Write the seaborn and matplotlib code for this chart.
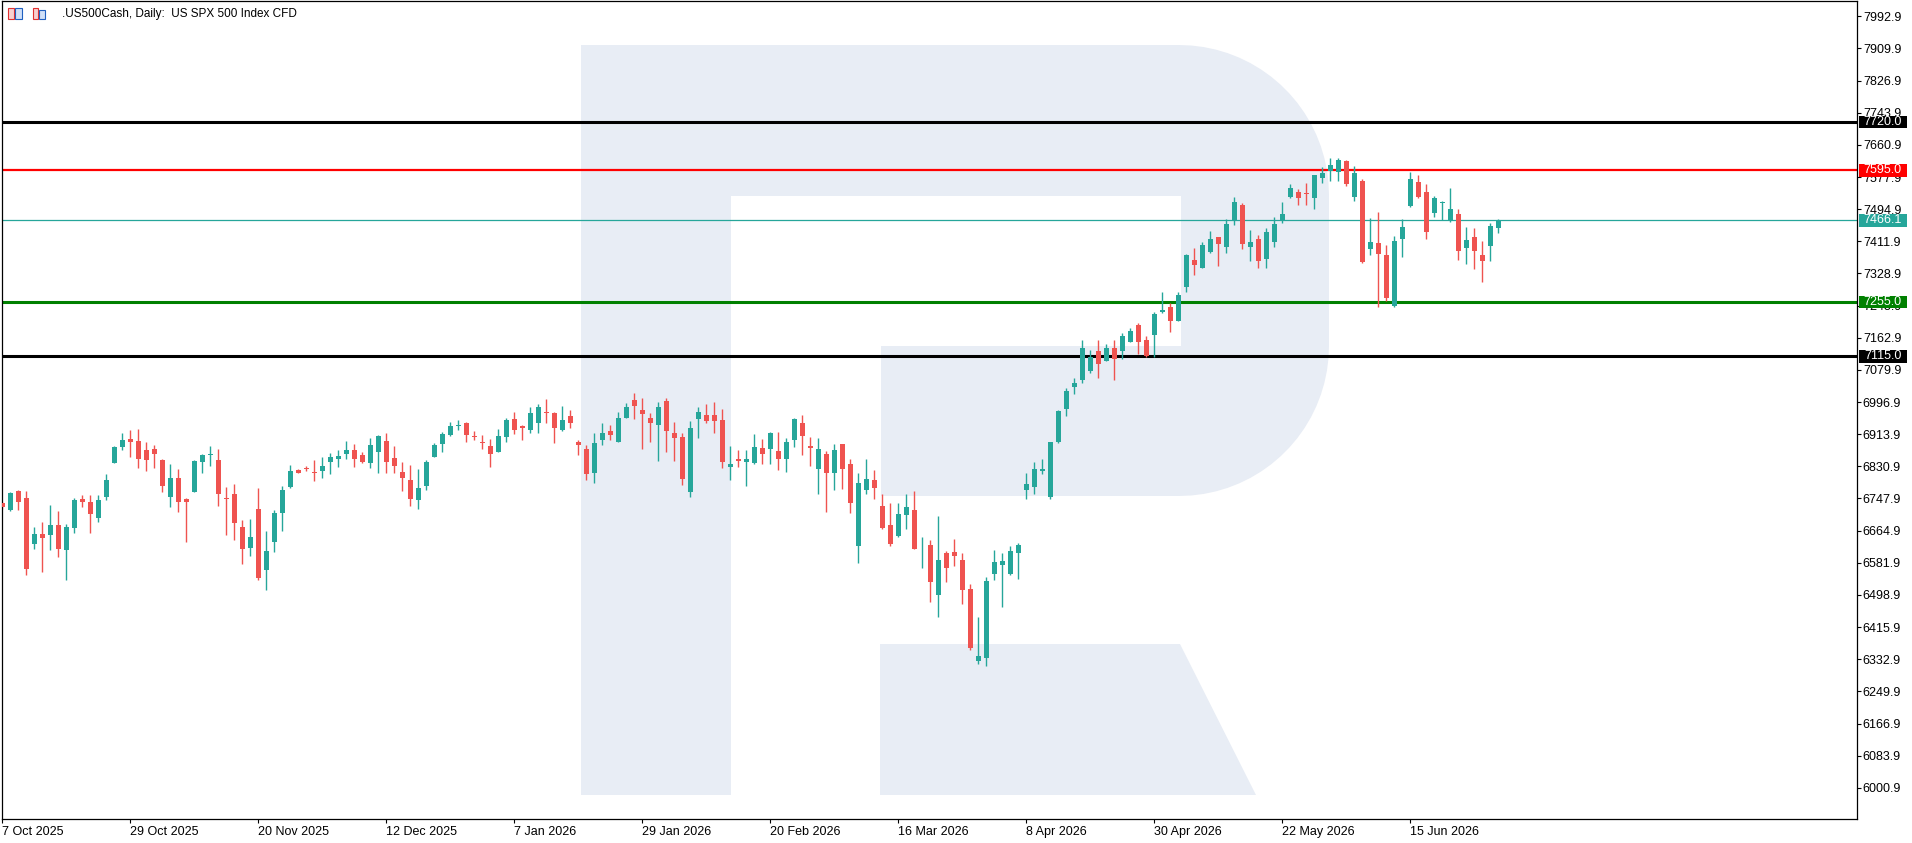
import numpy as np
import pandas as pd
import seaborn as sns
import matplotlib
matplotlib.use("Agg")
import matplotlib.pyplot as plt
from matplotlib.patches import Polygon, Rectangle

# daily candles (open, high, low, close)
opens = [6736, 6717, 6768, 6750, 6630, 6657, 6653, 6680, 6614, 6671, 6747, 6740, 6697, 6751, 6840, 6882,
         6902, 6897, 6874, 6876, 6848, 6751, 6802, 6747, 6764, 6841, 6859, 6848, 6750, 6760, 6675, 6619,
         6722, 6562, 6635, 6710, 6777, 6822, 6827, 6817, 6818, 6841, 6851, 6862, 6874, 6861, 6839, 6869,
         6897, 6853, 6817, 6796, 6743, 6779, 6854, 6888, 6913, 6935, 6943, 6910, 6894, 6884, 6869, 6906,
         6954, 6936, 6926, 6944, 6972, 6969, 6926, 6962, 6894, 6876, 6815, 6900, 6923, 6893, 6957, 7003,
         6977, 6956, 6937, 7000, 6918, 6907, 6764, 6952, 6964, 6964, 6951, 6828, 6851, 6842, 6839, 6879,
         6875, 6871, 6851, 6898, 6943, 6884, 6823, 6863, 6815, 6889, 6838, 6624, 6769, 6796, 6729, 6680,
         6650, 6704, 6719, 6624, 6629, 6498, 6606, 6611, 6590, 6513, 6328, 6335, 6552, 6575, 6552, 6606,
         6769, 6777, 6820, 6753, 6895, 6978, 7037, 7053, 7078, 7129, 7104, 7137, 7128, 7153, 7196, 7158,
         7171, 7230, 7243, 7207, 7295, 7364, 7344, 7385, 7423, 7396, 7467, 7506, 7396, 7418, 7367, 7409,
         7465, 7527, 7539, 7537, 7524, 7576, 7594, 7591, 7619, 7527, 7568, 7392, 7408, 7377, 7245, 7418,
         7503, 7565, 7539, 7485, 7512, 7467, 7483, 7395, 7423, 7377, 7400, 7447]
highs = [6740, 6765, 6771, 6768, 6675, 6688, 6732, 6716, 6683, 6750, 6758, 6758, 6758, 6812, 6884, 6918,
         6925, 6928, 6894, 6887, 6851, 6838, 6825, 6750, 6848, 6864, 6884, 6876, 6778, 6786, 6693, 6696,
         6776, 6665, 6719, 6781, 6835, 6825, 6833, 6848, 6856, 6866, 6874, 6897, 6889, 6869, 6905, 6912,
         6918, 6884, 6843, 6835, 6825, 6848, 6892, 6920, 6946, 6951, 6946, 6923, 6913, 6902, 6928, 6956,
         6972, 6938, 6985, 6992, 7005, 6972, 6987, 6977, 6900, 6887, 6918, 6943, 6938, 6972, 6995, 7021,
         7008, 6969, 6998, 7008, 6946, 6918, 6949, 6985, 6993, 6998, 6980, 6884, 6874, 6874, 6915, 6902,
         6920, 6920, 6905, 6956, 6964, 6907, 6905, 6871, 6889, 6889, 6851, 6814, 6851, 6822, 6760, 6737,
         6737, 6760, 6768, 6649, 6642, 6703, 6613, 6644, 6608, 6528, 6443, 6546, 6616, 6608, 6626, 6634,
         6814, 6843, 6851, 6894, 6977, 7034, 7060, 7158, 7132, 7158, 7147, 7158, 7176, 7189, 7201, 7168,
         7230, 7281, 7253, 7281, 7380, 7395, 7410, 7439, 7423, 7470, 7527, 7511, 7441, 7428, 7447, 7475,
         7514, 7560, 7547, 7563, 7583, 7604, 7627, 7627, 7622, 7607, 7573, 7472, 7488, 7403, 7426, 7470,
         7591, 7583, 7560, 7529, 7516, 7550, 7496, 7449, 7447, 7413, 7459, 7470]
lows = [6720, 6715, 6719, 6550, 6617, 6557, 6614, 6596, 6537, 6660, 6725, 6660, 6686, 6745, 6839, 6872,
        6854, 6826, 6818, 6826, 6764, 6725, 6712, 6635, 6764, 6813, 6833, 6728, 6653, 6642, 6578, 6599,
        6537, 6511, 6611, 6663, 6774, 6813, 6820, 6792, 6802, 6810, 6828, 6849, 6828, 6839, 6826, 6813,
        6813, 6813, 6766, 6728, 6722, 6771, 6854, 6867, 6908, 6926, 6895, 6900, 6875, 6828, 6867, 6895,
        6915, 6900, 6918, 6916, 6944, 6890, 6921, 6929, 6859, 6795, 6787, 6885, 6898, 6893, 6957, 6952,
        6875, 6895, 6844, 6867, 6844, 6782, 6751, 6903, 6942, 6916, 6826, 6795, 6828, 6779, 6836, 6836,
        6836, 6822, 6817, 6882, 6861, 6832, 6760, 6712, 6769, 6772, 6710, 6581, 6759, 6746, 6668, 6624,
        6648, 6668, 6617, 6568, 6480, 6441, 6532, 6573, 6475, 6356, 6320, 6315, 6537, 6467, 6550, 6539,
        6746, 6759, 6810, 6746, 6890, 6962, 7017, 7045, 7073, 7058, 7102, 7053, 7109, 7153, 7122, 7112,
        7112, 7226, 7179, 7205, 7280, 7326, 7344, 7383, 7347, 7383, 7455, 7393, 7360, 7342, 7344, 7396,
        7458, 7524, 7506, 7506, 7496, 7563, 7568, 7568, 7555, 7516, 7356, 7377, 7243, 7258, 7243, 7372,
        7501, 7524, 7418, 7475, 7467, 7462, 7364, 7354, 7341, 7307, 7361, 7434]
closes = [6725, 6763, 6738, 6565, 6657, 6645, 6680, 6617, 6675, 6745, 6738, 6707, 6745, 6796, 6882, 6900,
          6895, 6849, 6846, 6862, 6779, 6802, 6738, 6740, 6845, 6861, 6863, 6759, 6746, 6684, 6617, 6649,
          6542, 6613, 6711, 6771, 6820, 6815, 6823, 6815, 6833, 6856, 6858, 6874, 6849, 6841, 6887, 6910,
          6841, 6831, 6802, 6746, 6776, 6843, 6887, 6915, 6936, 6936, 6913, 6906, 6890, 6864, 6910, 6951,
          6924, 6929, 6969, 6985, 6968, 6931, 6951, 6944, 6885, 6810, 6892, 6918, 6911, 6956, 6985, 6986,
          6965, 6942, 6985, 6921, 6903, 6797, 6931, 6972, 6949, 6947, 6841, 6838, 6844, 6851, 6882, 6864,
          6918, 6849, 6894, 6954, 6908, 6877, 6876, 6815, 6874, 6823, 6735, 6789, 6799, 6774, 6673, 6630,
          6709, 6727, 6617, 6626, 6532, 6590, 6568, 6599, 6511, 6361, 6341, 6536, 6585, 6587, 6613, 6629,
          6786, 6825, 6825, 6894, 6974, 7026, 7047, 7137, 7114, 7096, 7137, 7107, 7168, 7181, 7151, 7117,
          7225, 7235, 7205, 7274, 7377, 7352, 7403, 7418, 7404, 7457, 7514, 7404, 7410, 7362, 7436, 7457,
          7483, 7550, 7524, 7535, 7583, 7588, 7609, 7622, 7560, 7588, 7359, 7410, 7379, 7266, 7413, 7449,
          7573, 7527, 7436, 7524, 7514, 7496, 7387, 7415, 7387, 7361, 7452, 7467]

date_ticks = [0, 16, 32, 48, 64, 80, 96, 112, 128, 144, 160, 176]
date_labels = ["7 Oct 2025", "29 Oct 2025", "20 Nov 2025", "12 Dec 2025", "7 Jan 2026", "29 Jan 2026",
               "20 Feb 2026", "16 Mar 2026", "8 Apr 2026", "30 Apr 2026", "22 May 2026", "15 Jun 2026"]
price_ticks = [6000.9, 6083.9, 6166.9, 6249.9, 6332.9, 6415.9, 6498.9, 6581.9, 6664.9, 6747.9, 6830.9,
               6913.9, 6996.9, 7079.9, 7162.9, 7245.9, 7328.9, 7411.9, 7494.9, 7577.9, 7660.9, 7743.9,
               7826.9, 7909.9, 7992.9]
level_values = [7720.0, 7595.0, 7466.1, 7255.0, 7115.0]
level_colors = ["#000000", "#ff0000", "#26a69a", "#008000", "#000000"]
level_widths = [2.2, 1.6, 0.9, 2.2, 2.2]

UP = "#26a69a"
DOWN = "#ef5350"
W, H = 1912, 843

df = pd.DataFrame({"open": opens, "high": highs, "low": lows, "close": closes})
df["bar"] = np.arange(len(df))
df["up"] = df["close"] >= df["open"]

sns.set_theme(style="white")
plt.rcParams["font.family"] = ["Liberation Sans", "DejaVu Sans"]

fig = plt.figure(figsize=(W / 100, H / 100), dpi=100)
ax = fig.add_axes([2.3 / W, 1 - 819.3 / H, 1855 / W, 818.3 / H])
ax.set_facecolor("white")


def px(x, y):
    return (x / W, 1 - y / H)


# watermark "R"
def arc(cx, cy, r, a0, a1):
    t = np.radians(np.linspace(a0, a1, 20))
    return [(cx + r * np.cos(t_), cy - r * np.sin(t_)) for t_ in t]


r = 150
outline = [(581, 45), (1179, 45)] + arc(1179, 195, r, 90, 0) + arc(1179, 346, r, 0, -90) + \
          [(881, 496), (881, 346), (1181, 346), (1181, 196), (731, 196), (731, 795), (581, 795)]
leg = [(880, 644), (1180, 644), (1256, 795), (880, 795)]
for shape in (outline, leg):
    ax.add_patch(Polygon([px(*p) for p in shape], closed=True, transform=fig.transFigure,
                         facecolor="#e8edf5", edgecolor="none", zorder=0))

# levels
for val, col, lw in zip(level_values, level_colors, level_widths):
    ax.axhline(val, color=col, lw=lw, zorder=1)

# candles
colors = np.where(df["up"], UP, DOWN)
ax.vlines(df["bar"], df["low"], df["high"], colors=colors, lw=1.0, zorder=2)
body_lo = df[["open", "close"]].min(axis=1)
body_h = (df["close"] - df["open"]).abs().clip(lower=2.0)
ax.bar(df["bar"], body_h, bottom=body_lo, width=0.62, color=colors, linewidth=0, zorder=3)

ax.set_xlim(0, 231.9)
ax.set_ylim(5919.6, 8032.4)

ax.yaxis.tick_right()
ax.set_yticks(price_ticks)
ax.set_yticklabels([f"{v:.1f}" for v in price_ticks])
ax.set_xticks(date_ticks)
ax.set_xticklabels(date_labels, ha="left")
ax.tick_params(axis="y", which="both", right=True, left=False, length=3, width=0.8, pad=1,
               labelsize=9, colors="black", direction="out")
ax.tick_params(axis="x", which="both", bottom=True, length=3, width=0.8, pad=2,
               labelsize=9, colors="black", direction="out")
for side in ["left", "right", "top", "bottom"]:
    ax.spines[side].set_visible(True)
    ax.spines[side].set_color("black")
    ax.spines[side].set_linewidth(0.9)
ax.grid(False)

# price labels on the right axis (boxes of about 47 x 13 px)
trans = ax.get_yaxis_transform()
x0 = (1858.5 - 2.3) / 1855
x1 = (1907.0 - 2.3) / 1855
half = 6.4 * 2.582
for val, col in zip(level_values, level_colors):
    ax.add_patch(Rectangle((x0, val - half), x1 - x0, 2 * half, transform=trans, facecolor=col,
                           edgecolor="none", clip_on=False, zorder=5))
    ax.text((x0 + x1) / 2, val, f"{val:.1f}", transform=trans, ha="center", va="center",
            fontsize=9, color="white", clip_on=False, zorder=6)

# header
fig.patches.append(Rectangle(px(8, 19), 6 / W, 11 / H, transform=fig.transFigure,
                             facecolor="#f8d0d0", edgecolor="#e03030", lw=0.8))
fig.patches.append(Rectangle(px(15, 19), 7 / W, 11 / H, transform=fig.transFigure,
                             facecolor="#d0e0f8", edgecolor="#2060c0", lw=0.8))
fig.patches.append(Rectangle(px(33, 19), 5 / W, 11 / H, transform=fig.transFigure,
                             facecolor="#f8d0d0", edgecolor="#e03030", lw=0.8))
fig.patches.append(Rectangle(px(39, 19), 6 / W, 9 / H, transform=fig.transFigure,
                             facecolor="#d0e0f8", edgecolor="#2060c0", lw=0.8))
fig.text(62 / W, 1 - 14.5 / H, ".US500Cash, Daily:  US SPX 500 Index CFD", fontsize=8.5,
         ha="left", va="center", color="black")

fig.savefig("out.png", dpi=100)
